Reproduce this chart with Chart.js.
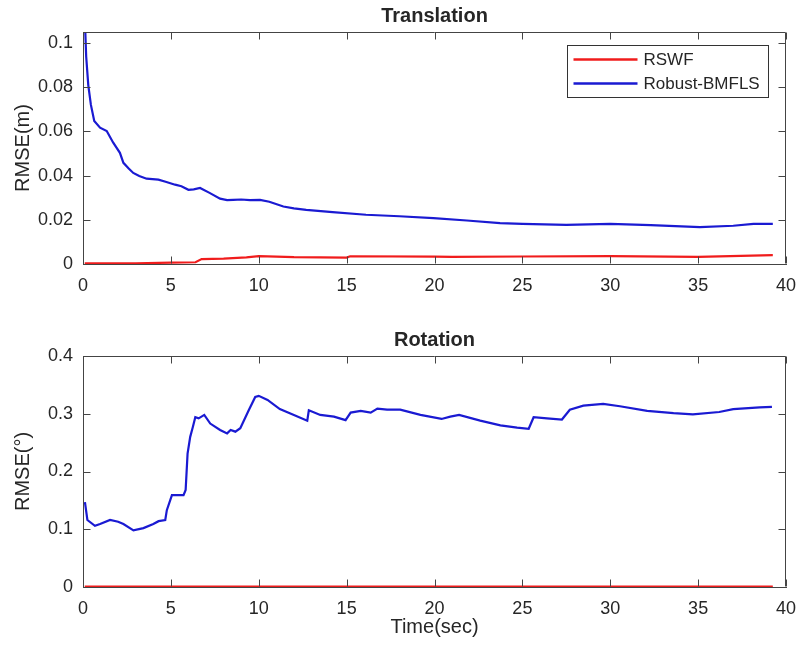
<!DOCTYPE html>
<html>
<head>
<meta charset="utf-8">
<script src="https://cdn.jsdelivr.net/npm/chart.js@4.4.1/dist/chart.umd.min.js"></script>
<style>
    html, body { margin: 0; padding: 0; background: #fff; }
    #wrap { position: relative; width: 796px; height: 646px; }
    #wrap canvas { position: absolute; left: 0; }
</style>
</head>
<body>
<div id="wrap">
    <canvas id="chartTrans" width="796" height="300" style="top:0"></canvas>
    <canvas id="chartRot" width="796" height="346" style="top:300px"></canvas>
</div>
<script>
// translation error over time
const transTimeBmfls = [0.1, 0.18, 0.3, 0.45, 0.64, 0.97, 1.35, 1.72, 2.1, 2.3, 2.6, 2.86, 3.2, 3.62, 4.29, 4.7, 5.24, 5.6, 6.0, 6.3, 6.66, 7.2, 7.8, 8.2, 8.55, 9.0, 9.5, 10.07, 10.6, 11.4, 12.0, 12.7, 14.2, 16.1, 18.0, 19.94, 21.84, 23.73, 25.0, 27.5, 30.0, 32.3, 35.1, 37.0, 38.15, 39.25];
const transBmfls = [0.112, 0.094, 0.081, 0.072, 0.0647, 0.0617, 0.0602, 0.0549, 0.0503, 0.0458, 0.0432, 0.0412, 0.0398, 0.0386, 0.0382, 0.0372, 0.0359, 0.0352, 0.0336, 0.0338, 0.0344, 0.0322, 0.0296, 0.0289, 0.029, 0.0292, 0.0289, 0.029, 0.0282, 0.026, 0.0252, 0.0245, 0.0235, 0.0223, 0.0216, 0.0208, 0.0197, 0.0185, 0.0182, 0.0177, 0.0182, 0.0176, 0.0167, 0.0173, 0.0182, 0.0182];
const transTimeRswf = [0.1, 3.0, 5.0, 6.4, 6.75, 8.0, 9.3, 10.0, 12.0, 15.0, 15.2, 20.0, 21.0, 25.0, 30.0, 35.0, 39.25];
const transRswf = [0.0003, 0.0003, 0.0006, 0.0008, 0.0022, 0.0024, 0.003, 0.0036, 0.0031, 0.0029, 0.0035, 0.0033, 0.0032, 0.0034, 0.0036, 0.0032, 0.004];

// rotation error over time
const rotTimeBmfls = [0.11, 0.25, 0.68, 0.97, 1.54, 2.0, 2.3, 2.87, 3.44, 4.0,
    4.3, 4.68, 4.77, 5.06, 5.72, 5.84, 5.95, 6.1, 6.25, 6.39,
    6.58, 6.9, 7.24, 7.8, 8.2, 8.4, 8.67, 8.95, 9.43, 9.8,
    10.0, 10.5, 11.2, 12.0, 12.76, 12.85, 13.5, 14.28, 14.94, 15.23,
    15.8, 16.37, 16.75, 17.3, 18.05, 19.2, 20.4, 20.9, 21.4, 22.6,
    23.75, 24.7, 25.36, 25.64, 26.4, 27.25, 27.7, 28.47, 29.6, 30.55,
    32.1, 33.6, 34.7, 36.2, 37.0, 38.5, 39.2];
const rotBmfls = [0.147, 0.116, 0.106, 0.109, 0.116, 0.113, 0.109, 0.098, 0.102, 0.109,
    0.114, 0.116, 0.133, 0.159, 0.159, 0.168, 0.231, 0.26, 0.277, 0.294,
    0.292, 0.298, 0.283, 0.272, 0.266, 0.272, 0.269, 0.275, 0.306, 0.329,
    0.331, 0.324, 0.308, 0.298, 0.288, 0.306, 0.298, 0.295, 0.289, 0.302,
    0.305, 0.302, 0.309, 0.307, 0.307, 0.298, 0.291, 0.295, 0.298, 0.288,
    0.280, 0.276, 0.274, 0.294, 0.292, 0.29, 0.307, 0.314, 0.317, 0.313,
    0.305, 0.301, 0.299, 0.303, 0.308, 0.311, 0.312];
const rotTimeRswf = [0.1, 10.0, 20.0, 30.0, 39.25];
const rotRswf = [0.0005, 0.0006, 0.0008, 0.0008, 0.0008];

const seriesNames = ['RSWF', 'Robust-BMFLS'];
const seriesColors = ['#f01c1c', '#1a1ad2'];

const FONT = "'Liberation Sans', Arial, Helvetica, sans-serif";
const TEXT_COLOR = '#262626';
const AXIS_COLOR = '#444444';

function toPoints(xs, ys) {
    return xs.map((x, i) => ({x: x, y: ys[i]}));
}

// top/right box edges plus inward tick marks on all four sides
const axisBoxPlugin = {
    id: 'axisBox',
    afterDatasetsDraw(chart) {
        const {ctx, chartArea: a, scales} = chart;
        const len = 7;
        const L = Math.round(a.left) + 0.5, R = Math.round(a.right) - 0.5;
        const T = Math.round(a.top) + 0.5, B = Math.round(a.bottom) - 0.5;
        ctx.save();
        ctx.strokeStyle = AXIS_COLOR;
        ctx.lineWidth = 1;
        ctx.beginPath();
        ctx.moveTo(L, T); ctx.lineTo(R, T); ctx.lineTo(R, B);
        scales.x.ticks.forEach(function (t) {
            const px = Math.round(scales.x.getPixelForValue(t.value)) + 0.5;
            ctx.moveTo(px, B); ctx.lineTo(px, B - len);
            ctx.moveTo(px, T); ctx.lineTo(px, T + len);
        });
        scales.y.ticks.forEach(function (t) {
            const py = Math.round(scales.y.getPixelForValue(t.value)) + 0.5;
            ctx.moveTo(L, py); ctx.lineTo(L + len, py);
            ctx.moveTo(R, py); ctx.lineTo(R - len, py);
        });
        ctx.stroke();
        ctx.restore();
    }
};

// legend box drawn inside the plot, top right corner
const insetLegendPlugin = {
    id: 'insetLegend',
    afterDraw(chart, args, opts) {
        if (!opts.display) return;
        const {ctx, chartArea: a} = chart;
        const w = 201, h = 52;
        const x0 = Math.round(a.right - 219) + 0.5;
        const y0 = Math.round(a.top + 13) + 0.5;
        ctx.save();
        ctx.fillStyle = '#fff';
        ctx.fillRect(x0, y0, w, h);
        ctx.strokeStyle = '#333';
        ctx.lineWidth = 1;
        ctx.strokeRect(x0, y0, w, h);
        ctx.font = '17px ' + FONT;
        ctx.textBaseline = 'middle';
        ctx.textAlign = 'left';
        chart.data.datasets.forEach(function (ds, i) {
            const y = y0 + 14 + i * 24;
            ctx.strokeStyle = ds.borderColor;
            ctx.lineWidth = 2.5;
            ctx.beginPath();
            ctx.moveTo(x0 + 6, y);
            ctx.lineTo(x0 + 70, y);
            ctx.stroke();
            ctx.fillStyle = TEXT_COLOR;
            ctx.fillText(ds.label, x0 + 76, y + 1);
        });
        ctx.restore();
    }
};

function makeChart(params) {
    return new Chart(params.ctx, {
        type: 'line',
        data: {
            datasets: params.datasets
        },
        options: {
            responsive: false,
            animation: false,
            layout: { padding: { top: 0, right: 10, bottom: 0, left: 0 } },
            elements: {
                point: { radius: 0 },
                line: { borderWidth: 2.2, tension: 0 }
            },
            plugins: {
                legend: { display: false },
                tooltip: { enabled: false },
                title: {
                    display: true,
                    fullSize: false,
                    text: params.title,
                    color: TEXT_COLOR,
                    font: { family: FONT, size: 20, weight: 'bold', lineHeight: 1.2 },
                    padding: params.titlePadding
                },
                insetLegend: { display: params.showLegend }
            },
            scales: {
                x: {
                    type: 'linear',
                    min: 0,
                    max: 40,
                    ticks: { stepSize: 5, padding: 11, color: TEXT_COLOR, font: { family: FONT, size: 18 }, maxRotation: 0 },
                    grid: { display: false, drawTicks: false },
                    border: { display: true, color: AXIS_COLOR, width: 1 },
                    title: {
                        display: !!params.xTitle,
                        text: params.xTitle,
                        color: TEXT_COLOR,
                        font: { family: FONT, size: 20, lineHeight: 1.2 },
                        padding: { top: 7, bottom: 7 }
                    },
                    afterFit: function (scale) {
                        scale.height = params.xAxisHeight;
                        scale.paddingLeft = 0;
                        scale.paddingRight = 0;
                    }
                },
                y: {
                    type: 'linear',
                    min: 0,
                    max: params.yMax,
                    ticks: {
                        stepSize: params.yStep,
                        includeBounds: false,
                        padding: 10,
                        color: TEXT_COLOR,
                        font: { family: FONT, size: 18 },
                        callback: (v) => String(+v.toFixed(3))
                    },
                    grid: { display: false, drawTicks: false },
                    border: { display: true, color: AXIS_COLOR, width: 1 },
                    title: {
                        display: true,
                        text: params.yTitle,
                        color: TEXT_COLOR,
                        font: { family: FONT, size: 20, lineHeight: 1.2 },
                        padding: { top: 11, bottom: 0 }
                    },
                    afterFit: function (scale) {
                        scale.width = 83;
                        scale.paddingTop = 0;
                        scale.paddingBottom = 0;
                    }
                }
            }
        },
        plugins: [axisBoxPlugin, insetLegendPlugin]
    });
}

function buildDatasets(rswf, bmfls) {
    return [
        { label: seriesNames[0], data: rswf, borderColor: seriesColors[0], backgroundColor: seriesColors[0] },
        { label: seriesNames[1], data: bmfls, borderColor: seriesColors[1], backgroundColor: seriesColors[1] }
    ];
}

makeChart({
    ctx: document.getElementById('chartTrans'),
    title: 'Translation',
    titlePadding: { top: 4, bottom: 4 },
    yTitle: 'RMSE(m)',
    yMax: 0.105,
    yStep: 0.02,
    xAxisHeight: 36,
    showLegend: true,
    datasets: buildDatasets(toPoints(transTimeRswf, transRswf), toPoints(transTimeBmfls, transBmfls))
});

makeChart({
    ctx: document.getElementById('chartRot'),
    title: 'Rotation',
    titlePadding: { top: 28, bottom: 4 },
    yTitle: 'RMSE(°)',
    xTitle: 'Time(sec)',
    yMax: 0.4,
    yStep: 0.1,
    xAxisHeight: 59,
    showLegend: false,
    datasets: buildDatasets(toPoints(rotTimeRswf, rotRswf), toPoints(rotTimeBmfls, rotBmfls))
});
</script>
</body>
</html>
